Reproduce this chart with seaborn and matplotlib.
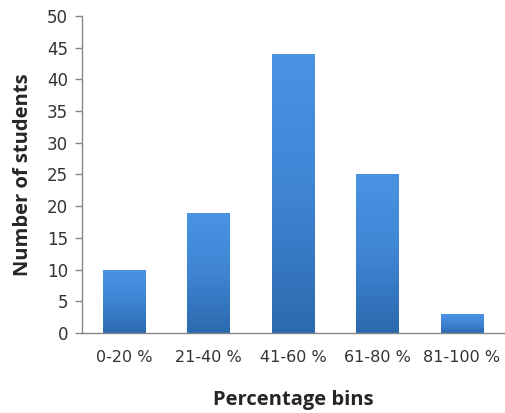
import matplotlib
matplotlib.use("Agg")
import matplotlib.pyplot as plt
import seaborn as sns
import numpy as np
import pandas as pd
from matplotlib.colors import LinearSegmentedColormap

categories = ["0-20 %", "21-40 %", "41-60 %", "61-80 %", "81-100 %"]
students = [10, 19, 44, 25, 3]
yticks = [0, 5, 10, 15, 20, 25, 30, 35, 40, 45, 50]

df = pd.DataFrame({"bin": categories, "count": students})

sns.set_style("white")
plt.rcParams['font.family'] = ['DejaVu Sans']

fig = plt.figure(figsize=(5.05, 4.13), dpi=100)
ax = fig.add_axes([0.162, 0.194, 0.836, 0.767])
sns.barplot(data=df, x="bin", y="count", color="#3F83D0", width=0.5,
            saturation=1, ax=ax, edgecolor="none")

cmap = LinearSegmentedColormap.from_list("g", ["#2C6AAE", "#3F85D4", "#4A93E3"])
grad = np.linspace(0, 1, 256).reshape(-1, 1)
for p in ax.patches:
    x0, y0 = p.get_x(), p.get_y()
    w, h = p.get_width(), p.get_height()
    im = ax.imshow(grad, extent=[x0, x0 + w, y0, y0 + h], origin="lower",
                   cmap=cmap, aspect="auto", zorder=p.get_zorder() + 0.1)
    im.set_clip_path(p)

ax.set_xlim(-0.5, 4.5)
ax.set_ylim(0, 50)
ax.set_yticks(yticks)
ax.tick_params(axis="y", which="major", direction="out", length=5, width=1,
               color="#868686", left=True, labelsize=12, pad=5)
ax.tick_params(axis="x", length=0, labelsize=11.5, pad=12)
for lbl in ax.get_xticklabels() + ax.get_yticklabels():
    lbl.set_family("DejaVu Sans")
    lbl.set_color("#333333")
for s in ["top", "right"]:
    ax.spines[s].set_visible(False)
for s in ["left", "bottom"]:
    ax.spines[s].set_color("#868686")
    ax.spines[s].set_linewidth(1)

ax.set_xlabel("Percentage bins", fontsize=14.5, fontweight="bold",
              family="Open Sans", labelpad=18)
ax.set_ylabel("Number of students", fontsize=14.5, fontweight="bold",
              family="Open Sans", labelpad=10)

fig.savefig("out.png", dpi=100)
